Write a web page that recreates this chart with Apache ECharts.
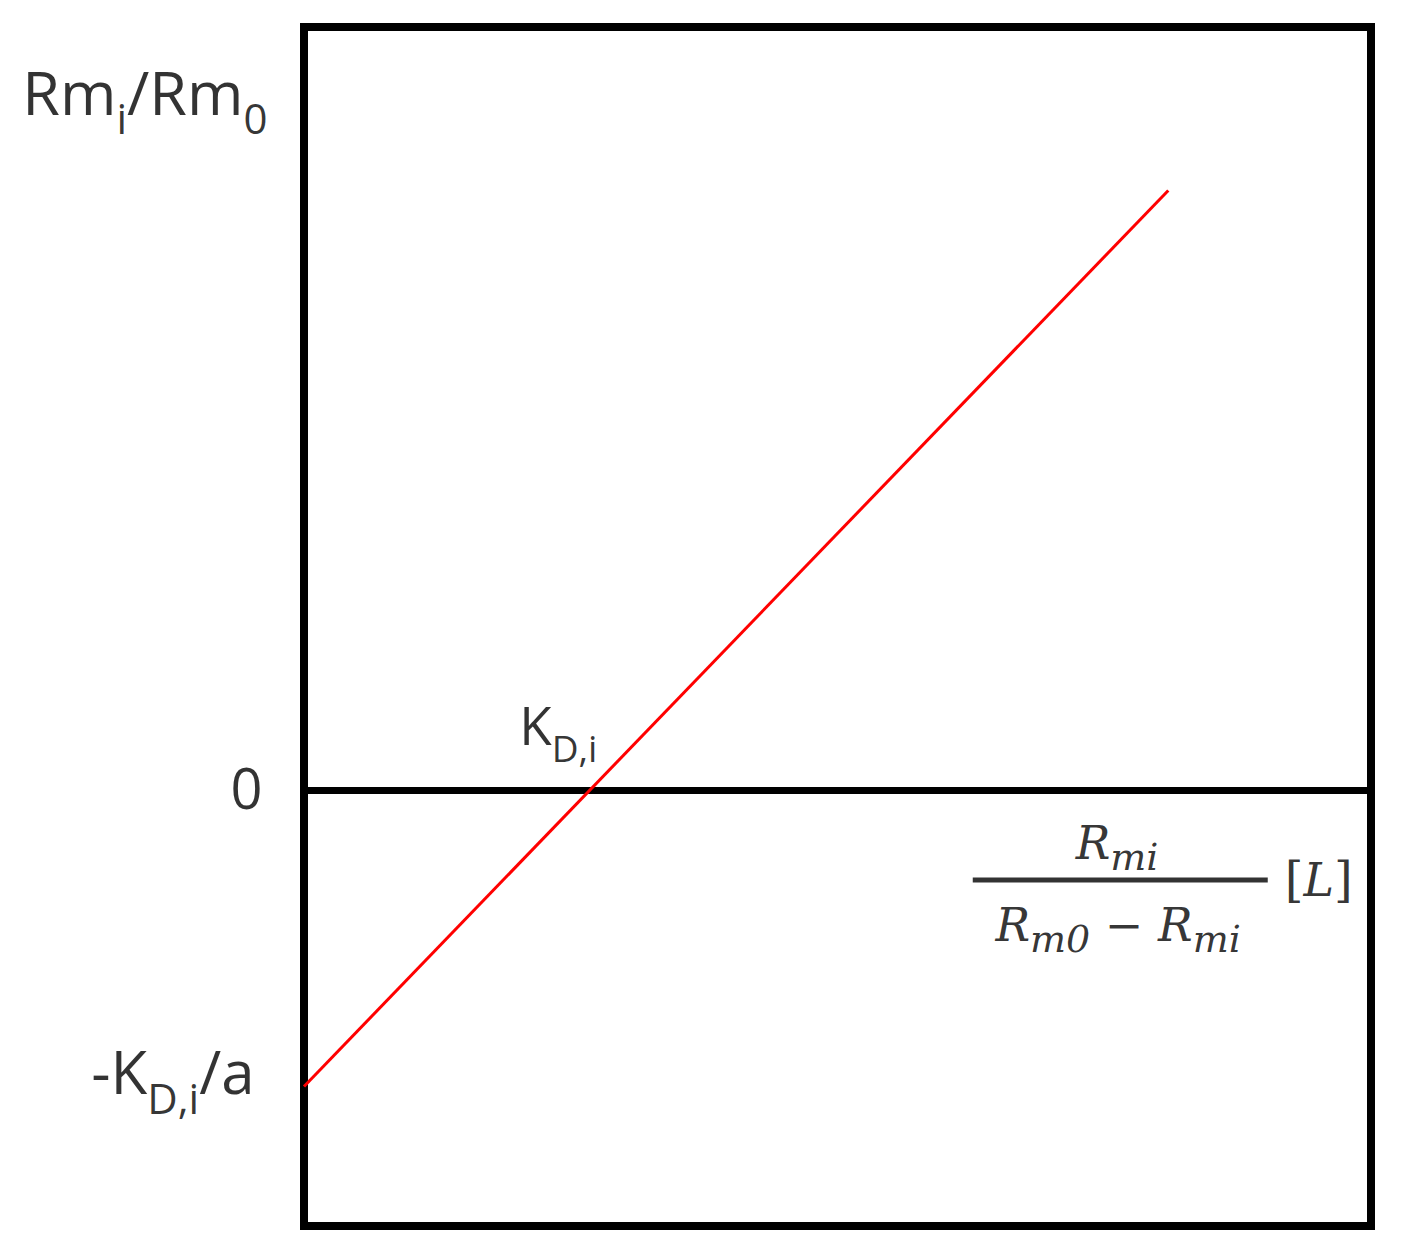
<!DOCTYPE html>
<html>
<head>
<meta charset="utf-8">
<script src="https://cdn.jsdelivr.net/npm/echarts@6/dist/echarts.min.js"></script>
<style>
html, body { margin: 0; background: #fff; }
#main { width: 1405px; height: 1258px; }
</style>
</head>
<body>
<div id="main"></div>
<script>
// red line: starts at -K_D,i/a on the y axis, crosses 0 at K_D,i
var lineX = [0, 8.1];
var lineY = [-2.72, 5.5];
var kdX = 2.68;

// y tick labels (rich text)
var yTickValues = [0, -2.72];
var yTickLabels = ['{z|0}', '{t|-K}{ts|D,i}{t|/a}'];
var yName = '{b|Rm}{s|i}{b|/Rm}{s|0}';
var kdLabel = '{k|K}{ks|D,i}';
var xNameTop = '{n|R}{ns|mi}';
var xNameBottom = '{n|R}{ns|m0}{n| − R}{ns|mi}';
var xUnit = '{u|[}{n|L}{u|]}';

var dom = document.getElementById('main');
var myChart = echarts.init(dom, null, { renderer: 'svg' });

var sans = '"Open Sans", sans-serif';
var serif = '"DejaVu Serif", serif';
var rich = {
    b: { fontFamily: sans, fontSize: 61, lineHeight: 95, color: '#000' },
    s: { fontFamily: sans, fontSize: 42, color: '#000', verticalAlign: 'bottom' },
    z: { fontFamily: sans, fontSize: 56, color: '#000' },
    t: { fontFamily: sans, fontSize: 60, lineHeight: 94, color: '#000' },
    ts: { fontFamily: sans, fontSize: 42, color: '#000', verticalAlign: 'bottom' },
    k: { fontFamily: sans, fontSize: 53, lineHeight: 84, color: '#000' },
    ks: { fontFamily: sans, fontSize: 37, color: '#000', verticalAlign: 'bottom' },
    n: { fontFamily: serif, fontStyle: 'italic', fontSize: 46, lineHeight: 66, color: '#000' },
    ns: { fontFamily: serif, fontStyle: 'italic', fontSize: 38, color: '#000', verticalAlign: 'bottom' },
    u: { fontFamily: serif, fontSize: 48, lineHeight: 66, color: '#000' },
    bar: { fontSize: 1, width: 295, height: 5, lineHeight: 5, backgroundColor: '#000' }
};

function note(x, y, text, pos, dist, offset) {
    return {
        value: [x, y],
        label: {
            show: true,
            position: pos,
            distance: dist,
            offset: offset || [0, 0],
            color: '#000',
            formatter: text,
            rich: rich
        }
    };
}

var notes = [
    note(0, yTickValues[0], yTickLabels[0], 'left', 41, [0, -3]),
    note(0, yTickValues[1], yTickLabels[1], 'left', 49, [0, -15]),
    note(0, 6.41, yName, 'left', 36),
    note(kdX, 0, kdLabel, 'left', 0, [8, -66]),
    note(7.62, -0.49, xNameTop, 'inside', 0),
    note(7.65, -0.826, '{bar| }', 'inside', 0),
    note(7.63, -1.24, xNameBottom, 'inside', 0),
    note(9.51, -0.826, xUnit, 'inside', 0)
];

option = {
    animation: false,
    grid: {
        show: true,
        left: 304,
        right: 34,
        top: 27,
        bottom: 32,
        borderColor: '#000',
        borderWidth: 8
    },
    xAxis: {
        type: 'value',
        min: 0,
        max: 10,
        axisLine: { onZero: true, lineStyle: { color: '#000', width: 7 } },
        axisTick: { show: false },
        axisLabel: { show: false },
        splitLine: { show: false }
    },
    yAxis: {
        type: 'value',
        min: -4,
        max: 7,
        axisLine: { show: false },
        axisTick: { show: false },
        axisLabel: { show: false },
        splitLine: { show: false }
    },
    series: [
        {
            type: 'line',
            data: [[lineX[0], lineY[0]], [lineX[1], lineY[1]]],
            symbol: 'none',
            lineStyle: { color: '#ff0000', width: 3 },
            z: 3
        },
        {
            type: 'scatter',
            symbolSize: 1,
            itemStyle: { color: 'transparent' },
            clip: false,
            silent: true,
            data: notes
        }
    ]
};
myChart.setOption(option);
</script>
</body>
</html>
